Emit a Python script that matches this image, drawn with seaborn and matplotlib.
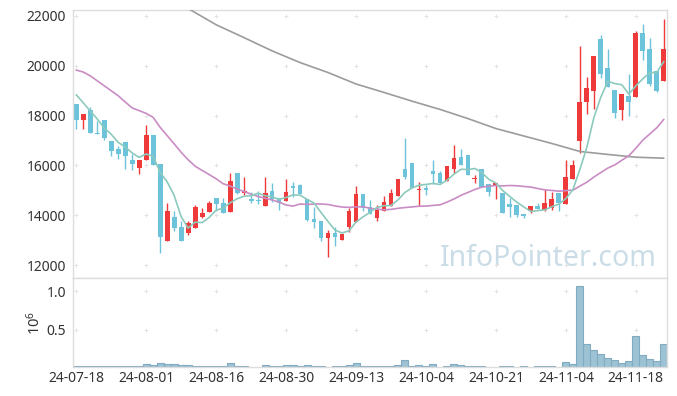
import matplotlib
matplotlib.use('Agg')
import matplotlib.pyplot as plt
import seaborn as sns
import numpy as np
import pandas as pd

# daily OHLC (KRW), 2024-07-18 .. 2024-11-22 trading days
opens = [18470, 17830, 18230, 17320, 17840, 17000, 16670, 16960, 16200, 15890,
         16200, 17240, 16040, 12970, 13920, 13520, 13270, 13490, 13920, 14110,
         14680, 14480, 14110, 15710, 14910, 14670, 14630, 14390, 14960, 14680,
         14570, 15170, 15200, 14640, 13840, 13760, 13090, 13280, 13010, 13530,
         13710, 14850, 14320, 13890, 14190, 14390, 14790, 15840, 16080, 15010,
         15070, 15760, 15680, 15390, 15850, 16330, 16400, 15440, 15870, 15270,
         15160, 14910, 14440, 14400, 14040, 14170, 14360, 14230, 14310, 14880,
         14470, 15470, 17000, 18530, 18970, 21090, 19920, 19010, 18230, 18790,
         18730, 21310, 20680, 19800, 19370]
highs = [18470, 18070, 18360, 17770, 17840, 17000, 16770, 16960, 16440, 16200,
         17640, 17240, 16040, 14480, 14160, 13770, 13770, 14400, 14290, 14590,
         14680, 14690, 15710, 15710, 15550, 14920, 14960, 15550, 15290, 14680,
         15470, 15330, 15270, 14640, 14320, 13760, 13400, 13530, 13240, 14290,
         15170, 14850, 14630, 14400, 14770, 15070, 15470, 17110, 16080, 15330,
         15200, 16200, 15760, 15970, 16830, 16670, 16400, 15630, 15870, 15270,
         15280, 14910, 14690, 14400, 14040, 14390, 14490, 15070, 14950, 14880,
         16230, 16230, 20800, 19550, 20400, 21240, 20670, 19010, 18870, 19670,
         21400, 21670, 21110, 19800, 21870]
lows = [17470, 17470, 17290, 17250, 17030, 16390, 16270, 15870, 15800, 15670,
        16200, 16000, 12470, 12970, 13350, 12970, 13190, 13490, 13870, 14110,
        14170, 14090, 14110, 14860, 14830, 14490, 14450, 14390, 14550, 14230,
        14570, 14730, 14850, 13770, 13490, 12970, 12330, 12770, 13010, 13310,
        13710, 14160, 14030, 13750, 14190, 14390, 14790, 15470, 15110, 14390,
        14800, 15270, 15310, 15390, 15690, 16010, 15610, 15290, 15130, 14770,
        14650, 14070, 13930, 13930, 13900, 14070, 14240, 14190, 14200, 14170,
        14470, 15470, 16510, 18070, 18270, 19510, 19160, 17910, 17810, 18000,
        18730, 20240, 19170, 18950, 19370]
closes = [17830, 18070, 17290, 17250, 17090, 16570, 16440, 16370, 16040, 16200,
          17240, 16000, 13130, 14160, 13480, 12970, 13680, 14320, 14080, 14480,
          14450, 14090, 15390, 14890, 14990, 14570, 14570, 14910, 14640, 14490,
          14950, 15090, 14850, 13810, 13730, 13080, 13270, 13120, 13240, 14160,
          14840, 14310, 14030, 14210, 14520, 14880, 15440, 15530, 15110, 15070,
          15030, 15650, 15310, 15970, 16280, 16010, 15610, 15510, 15130, 14930,
          15280, 14070, 14330, 14000, 13970, 14390, 14240, 14480, 14640, 14480,
          15520, 16000, 18560, 19110, 20400, 19670, 19160, 18090, 18870, 18530,
          21310, 20600, 19270, 19000, 20680]
# volume in millions of shares
volumes = [0.037, 0.029, 0.029, 0.029, 0.029, 0.029, 0.029, 0.029, 0.029, 0.029,
           0.054, 0.042, 0.076, 0.054, 0.054, 0.042, 0.042, 0.029, 0.029, 0.029,
           0.029, 0.029, 0.076, 0.029, 0.029, 0.010, 0.010, 0.042, 0.029, 0.029,
           0.042, 0.042, 0.029, 0.042, 0.029, 0.029, 0.010, 0.029, 0.029, 0.042,
           0.067, 0.029, 0.029, 0.029, 0.029, 0.029, 0.042, 0.106, 0.029, 0.042,
           0.029, 0.054, 0.010, 0.029, 0.054, 0.042, 0.029, 0.029, 0.029, 0.010,
           0.010, 0.029, 0.029, 0.010, 0.029, 0.010, 0.029, 0.029, 0.029, 0.010,
           0.080, 0.054, 1.062, 0.313, 0.235, 0.184, 0.132, 0.106, 0.076, 0.093,
           0.416, 0.171, 0.119, 0.093, 0.313]

# moving-average values before enough in-window data
ma5_head = [18840, 18520, 18190, 17870]
ma20_head = [19830, 19750, 19600, 19400, 19200, 19000, 18800, 18550, 18310, 18200,
             18090, 17930, 17530, 17200, 16870, 16530, 16230, 15970, 15800]
# long moving average (gray), read every 4 sessions
ma_long_idx = [0, 4, 8, 12, 16, 20, 24, 28, 32, 36, 40, 44, 48, 52, 56, 60, 64, 68, 72, 76, 80, 84]
ma_long = [24300, 23800, 23300, 22800, 22300, 21650, 21130, 20600, 20130, 19730, 19270,
           18930, 18580, 18250, 17880, 17480, 17180, 16880, 16560, 16440, 16330, 16290]

tick_pos = [0, 10, 20, 30, 40, 50, 60, 70, 80]
tick_labels = ['24-07-18', '24-08-01', '24-08-16', '24-08-30', '24-09-13',
               '24-10-04', '24-10-21', '24-11-04', '24-11-18']
price_ticks = [12000, 14000, 16000, 18000, 20000, 22000]
vol_ticks = [0.5, 1.0]

sns.set_theme(style='white')
plt.rcParams['font.family'] = ['Noto Sans', 'DejaVu Sans']

df = pd.DataFrame({'open': opens, 'high': highs, 'low': lows, 'close': closes, 'vol': volumes})
df['idx'] = np.arange(len(df))
ma5 = df['close'].rolling(5).mean().to_numpy()
ma5[:4] = ma5_head
ma20 = df['close'].rolling(20).mean().to_numpy()
ma20[:19] = ma20_head

RED = '#ee3a3a'
BLUE = '#6cc3da'
spine_c = '#dddddd'
txt_c = '#333333'

fig = plt.figure(figsize=(6.77, 3.96), dpi=100)
ax_p = fig.add_axes([73/677, 1-278/396, 594/677, 268/396])
ax_v = fig.add_axes([73/677, 1-367/396, 594/677, 89/396])

# watermark
ax_p.text(0.982, 0.044, 'InfoPointer.com', transform=ax_p.transAxes, ha='right', va='baseline',
          fontsize=20.5, color='#cadde7', zorder=0)

# candles
up = df['close'] >= df['open']
colors = np.where(up, RED, BLUE)
ax_p.vlines(df['idx'], df['low'], df['high'], colors=colors, lw=1.0, zorder=2)
body_bot = np.minimum(df['open'], df['close'])
body_h = np.maximum((df['close'] - df['open']).abs(), 45)
ax_p.bar(df['idx'], body_h, bottom=body_bot, width=0.7, color=colors, linewidth=0, zorder=2)

# moving averages
sns.lineplot(x=ma_long_idx, y=ma_long, ax=ax_p, color='#9c9c9c', lw=1.2, zorder=3)
sns.lineplot(x=df['idx'], y=ma20, ax=ax_p, color='#c98cc4', lw=1.2, zorder=3)
sns.lineplot(x=df['idx'], y=ma5, ax=ax_p, color='#8ccabd', lw=1.2, zorder=3)

# volume
sns.barplot(x=df['idx'], y=df['vol'], native_scale=True, ax=ax_v, color='#9cc2d3',
            edgecolor='#80abc1', linewidth=0.8, width=1.0, saturation=1, errorbar=None, zorder=2)

for ax in (ax_p, ax_v):
    ax.set_xlim(-0.45, 84.45)
    ax.set_xticks(tick_pos)
    ax.tick_params(length=0, colors=txt_c, labelsize=10)
    for s in ax.spines.values():
        s.set_color(spine_c)
        s.set_linewidth(1.0)
    ax.set_xlabel('')
    ax.set_ylabel('')

ax_p.set_ylim(11480, 22240)
ax_p.set_yticks(price_ticks)
ax_p.set_yticklabels([str(t) for t in price_ticks])
ax_p.set_xticklabels([])
ax_p.tick_params(axis='y', pad=5)

ax_v.set_ylim(0.02, 1.17)
ax_v.set_yticks(vol_ticks)
ax_v.set_yticklabels(['0.5', '1.0'])
ax_v.set_xticklabels(tick_labels)
ax_v.tick_params(axis='y', pad=5)
ax_v.tick_params(axis='x', pad=3)
ax_v.set_ylabel(r'$\mathregular{10^6}$', color=txt_c, fontsize=10.5, labelpad=2)

# grid crosses
gx, gy = np.meshgrid(tick_pos, price_ticks)
ax_p.scatter(gx.ravel(), gy.ravel(), marker='+', s=12, color='#e4e4e4', linewidths=0.7, zorder=1)
gx, gy = np.meshgrid(tick_pos, vol_ticks)
ax_v.scatter(gx.ravel(), gy.ravel(), marker='+', s=12, color='#e4e4e4', linewidths=0.7, zorder=1)

fig.savefig('out.png', dpi=100)
